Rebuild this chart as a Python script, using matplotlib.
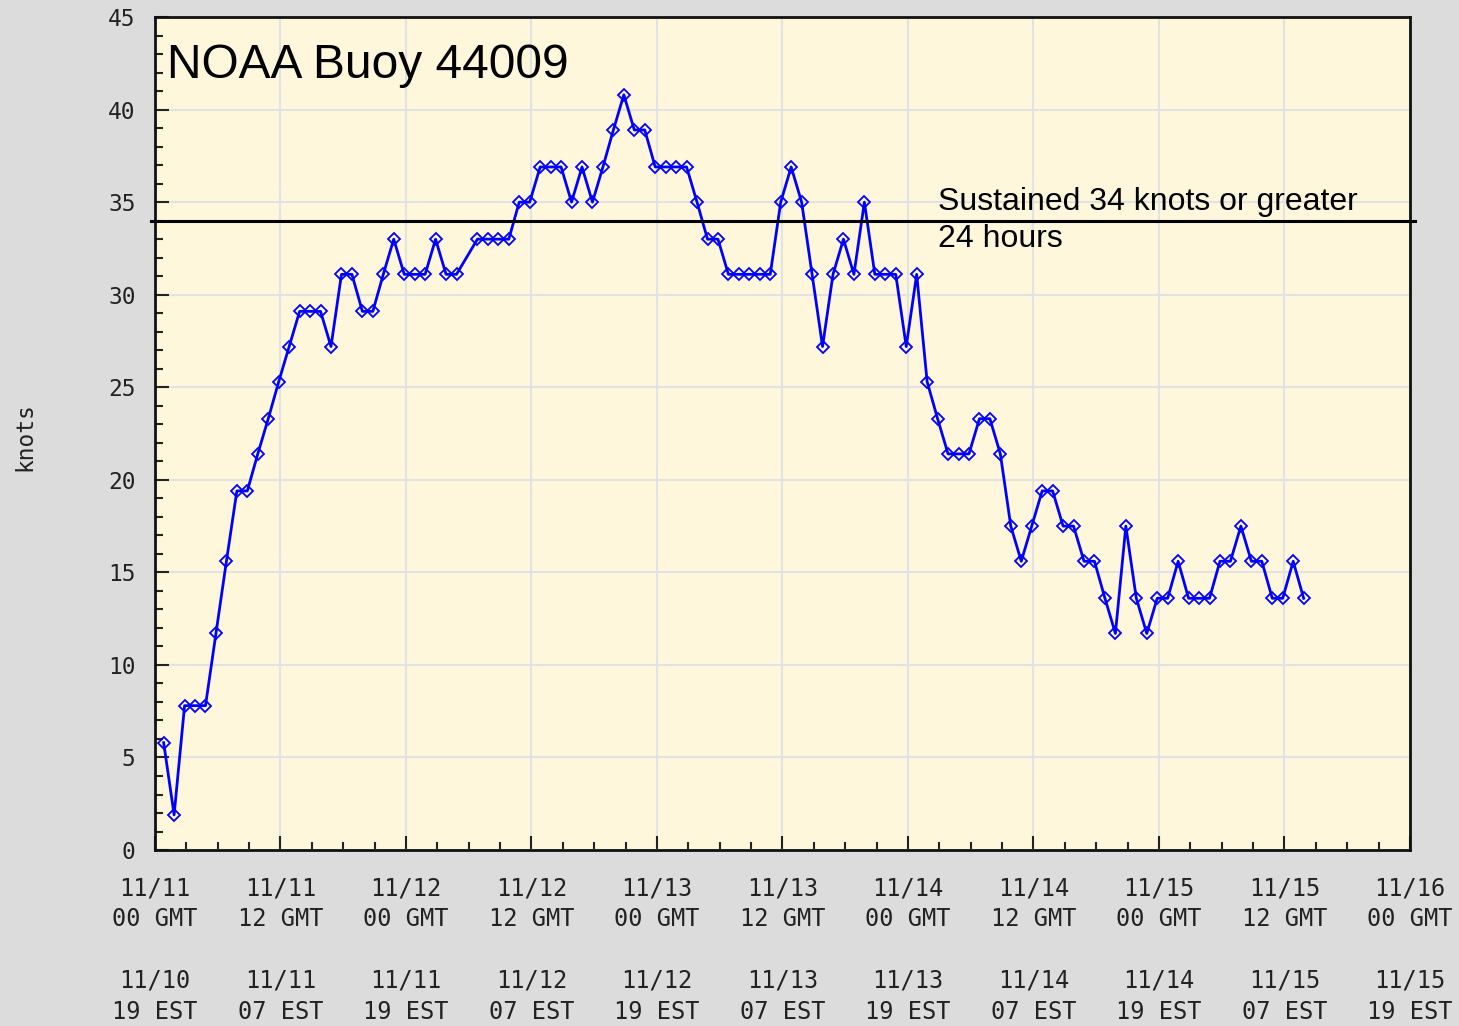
#!/usr/bin/env python
'''
    Wind speed at NOAA buoy 44009, 11/11 - 11/16 (hourly, knots).
'''
import numpy as np
import matplotlib
matplotlib.use('Agg')
import matplotlib.pyplot as plt
from matplotlib.ticker import MultipleLocator

# hours after 11/11 00 GMT of each observation (taken at hh:50), hour 29 missing
hours = [0, 1, 2, 3, 4, 5, 6, 7, 8, 9, 10, 11, 12, 13, 14, 15, 16, 17, 18, 19,
         20, 21, 22, 23, 24, 25, 26, 27, 28, 30, 31, 32, 33, 34, 35, 36, 37, 38, 39,
         40, 41, 42, 43, 44, 45, 46, 47, 48, 49, 50, 51, 52, 53, 54, 55, 56, 57, 58, 59,
         60, 61, 62, 63, 64, 65, 66, 67, 68, 69, 70, 71, 72, 73, 74, 75, 76, 77, 78, 79,
         80, 81, 82, 83, 84, 85, 86, 87, 88, 89, 90, 91, 92, 93, 94, 95, 96, 97, 98, 99,
         100, 101, 102, 103, 104, 105, 106, 107, 108, 109]
obs_minute = 50

knots = [5.8, 1.9, 7.8, 7.8, 7.8, 11.7, 15.6, 19.4, 19.4, 21.4,
         23.3, 25.3, 27.2, 29.1, 29.1, 29.1, 27.2, 31.1, 31.1, 29.1,
         29.1, 31.1, 33.0, 31.1, 31.1, 31.1, 33.0, 31.1, 31.1,
         33.0, 33.0, 33.0, 33.0, 35.0, 35.0, 36.9, 36.9, 36.9, 35.0,
         36.9, 35.0, 36.9, 38.9, 40.8, 38.9, 38.9, 36.9, 36.9, 36.9,
         36.9, 35.0, 33.0, 33.0, 31.1, 31.1, 31.1, 31.1, 31.1, 35.0,
         36.9, 35.0, 31.1, 27.2, 31.1, 33.0, 31.1, 35.0, 31.1, 31.1,
         31.1, 27.2, 31.1, 25.3, 23.3, 21.4, 21.4, 21.4, 23.3, 23.3,
         21.4, 17.5, 15.6, 17.5, 19.4, 19.4, 17.5, 17.5, 15.6, 15.6,
         13.6, 11.7, 17.5, 13.6, 11.7, 13.6, 13.6, 15.6, 13.6, 13.6,
         13.6, 15.6, 15.6, 17.5, 15.6, 15.6, 13.6, 13.6, 15.6, 13.6]

threshold = 34
tick_hours = [0, 12, 24, 36, 48, 60, 72, 84, 96, 108, 120]
gmt_labels = ['11/11\n00 GMT', '11/11\n12 GMT', '11/12\n00 GMT', '11/12\n12 GMT',
              '11/13\n00 GMT', '11/13\n12 GMT', '11/14\n00 GMT', '11/14\n12 GMT',
              '11/15\n00 GMT', '11/15\n12 GMT', '11/16\n00 GMT']
est_labels = ['11/10\n19 EST', '11/11\n07 EST', '11/11\n19 EST', '11/12\n07 EST',
              '11/12\n19 EST', '11/13\n07 EST', '11/13\n19 EST', '11/14\n07 EST',
              '11/14\n19 EST', '11/15\n07 EST', '11/15\n19 EST']

MONO = 'DejaVu Sans Mono'
SANS = 'Liberation Sans'

fig = plt.figure(figsize=(14.59, 10.26), dpi=100, facecolor='#dcdcdc')
ax = fig.add_axes([0.1062, 0.1715, 0.8602, 0.8119])
ax.set_facecolor('#fef7dc')

x = np.array(hours) + obs_minute / 60
ax.plot(x, knots, color='#0000ff', lw=2.0, marker='D', ms=6,
        mfc='none', mec='#0000ff', mew=1.3, zorder=3)

ax.axhline(threshold, xmin=-0.003, xmax=1.004, color='black', lw=2.2,
           clip_on=False, zorder=4)

ax.set_xlim(0, 120)
ax.set_ylim(0, 45)
ax.set_xticks(tick_hours)
ax.set_xticklabels([g + '\n\n' + e for g, e in zip(gmt_labels, est_labels)])
ax.xaxis.set_minor_locator(MultipleLocator(3))
ax.yaxis.set_major_locator(MultipleLocator(5))
ax.yaxis.set_minor_locator(MultipleLocator(1))

ax.tick_params(which='both', direction='in', top=False, right=False, colors='#222222')
ax.tick_params(which='major', length=10, width=1.5)
ax.tick_params(which='minor', length=6, width=1.5)
ax.tick_params(axis='y', pad=14, labelsize=16.5)
ax.tick_params(axis='x', pad=19, labelsize=17)
for lbl in ax.get_xticklabels():
    lbl.set_family(MONO)
    lbl.set_linespacing(1.36)
for lbl in ax.get_yticklabels():
    lbl.set_family(MONO)

ax.grid(which='major', color='#e2e2e2', lw=1.5)
ax.set_axisbelow(True)
for side in ['left', 'right', 'top', 'bottom']:
    ax.spines[side].set_linewidth(2)
    ax.spines[side].set_color('#111111')

fig.text(25 / 1459, 1 - 437 / 1026, 'knots', rotation=90, family=MONO,
         fontsize=16.5, color='#222222', ha='center', va='center')

ax.text(0.0096, 0.9268, 'NOAA Buoy 44009', transform=ax.transAxes,
        family=SANS, fontsize=34.5, va='baseline', ha='left')
ax.text(0.624, threshold, 'Sustained 34 knots or greater\n24 hours',
        transform=ax.get_yaxis_transform(), family=SANS, fontsize=23,
        va='center', ha='left', linespacing=1.32)

fig.savefig('out.png', dpi=100, facecolor=fig.get_facecolor())
